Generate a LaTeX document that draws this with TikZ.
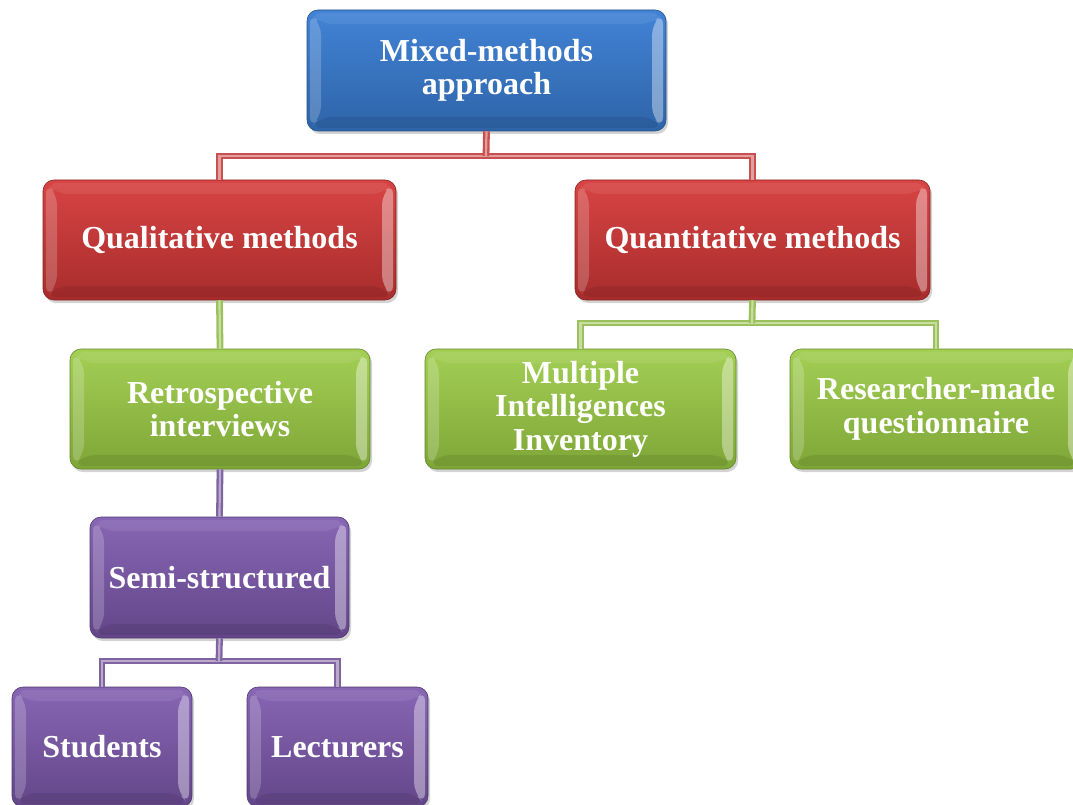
\documentclass[tikz,border=0pt]{standalone}
\usepackage{fontspec}
\setmainfont{Liberation Serif}
\usetikzlibrary{shadows,calc}
\definecolor{bluetop}{HTML}{4283D6}
\definecolor{bluebot}{HTML}{2E64A8}
\definecolor{redtop}{HTML}{D84444}
\definecolor{redbot}{HTML}{A82C2C}
\definecolor{greentop}{HTML}{A3CF55}
\definecolor{greenbot}{HTML}{7EA637}
\definecolor{purptop}{HTML}{8766B4}
\definecolor{purpbot}{HTML}{634689}
\definecolor{redline}{HTML}{C9504F}
\definecolor{greenline}{HTML}{9BC25A}
\definecolor{purpline}{HTML}{8064A2}
\tikzset{
  bevel/.style={path picture={
    \path (path picture bounding box.south west) coordinate (bsw)
          (path picture bounding box.north west) coordinate (bnw)
          (path picture bounding box.north east) coordinate (bne)
          (path picture bounding box.south east) coordinate (bse);
    \fill[white,opacity=.20] ($(bsw)+(3pt,3pt)$) -- ($(bsw)+(14pt,14pt)$) -- ($(bnw)+(14pt,-14pt)$) -- ($(bnw)+(3pt,-3pt)$) -- cycle;
    \fill[white,opacity=.38] ($(bse)+(-3pt,3pt)$) -- ($(bse)+(-14pt,14pt)$) -- ($(bne)+(-14pt,-14pt)$) -- ($(bne)+(-3pt,-3pt)$) -- cycle;
    \fill[white,opacity=.08] ($(bnw)+(3pt,-3pt)$) -- ($(bnw)+(14pt,-14pt)$) -- ($(bne)+(-14pt,-14pt)$) -- ($(bne)+(-3pt,-3pt)$) -- cycle;
    \fill[black,opacity=.08] ($(bsw)+(3pt,3pt)$) -- ($(bsw)+(14pt,14pt)$) -- ($(bse)+(-14pt,14pt)$) -- ($(bse)+(-3pt,3pt)$) -- cycle;
  }},
  boxbase/.style={rectangle, rounded corners=11pt, align=center, text=white,
    font=\fontsize{32}{33.5}\selectfont\bfseries, inner sep=0pt,
    drop shadow={opacity=.35, shadow xshift=2pt, shadow yshift=-3pt}, bevel},
  bluebox/.style={boxbase, top color=bluetop, bottom color=bluebot, draw=bluebot!80!black, line width=.6pt},
  redbox/.style={boxbase, top color=redtop, bottom color=redbot, draw=redbot!80!black, line width=.6pt},
  greenbox/.style={boxbase, top color=greentop, bottom color=greenbot, draw=greenbot!80!black, line width=.6pt},
  purpbox/.style={boxbase, top color=purptop, bottom color=purpbot, draw=purpbot!80!black, line width=.6pt},
  pipe/.style={draw=#1, line width=2.3pt, double=#1!55!white, double distance=2.2pt, line join=miter},
}
\begin{document}
\begin{tikzpicture}[x=1pt,y=-1pt]
\useasboundingbox (0,0) rectangle (1073,805);
\coordinate (j1) at (486,156);
\coordinate (j2) at (752,323);
\coordinate (j3) at (219,661);
% nodes
\node[bluebox, minimum width=359pt, minimum height=121pt] (top) at (486.5,70.5) {Mixed-methods\\approach};
\node[redbox, minimum width=353pt, minimum height=120pt] (qual) at (219.5,240) {Qualitative methods};
\node[redbox, minimum width=355pt, minimum height=120pt] (quan) at (752.5,240) {Quantitative methods};
\node[greenbox, minimum width=300pt, minimum height=120pt] (retro) at (220,409) {Retrospective\\interviews};
\node[greenbox, minimum width=311pt, minimum height=120pt] (mult) at (580.5,409) {Multiple\\Intelligences\\Inventory};
\node[greenbox, minimum width=292pt, minimum height=120pt] (res) at (936,409) {Researcher-made\\questionnaire};
\node[purpbox, minimum width=259pt, minimum height=121pt] (semi) at (219.5,577.5) {Semi-structured};
\node[purpbox, minimum width=180pt, minimum height=120pt] (stud) at (102,747) {Students};
\node[purpbox, minimum width=181pt, minimum height=120pt] (lect) at (337.5,747) {Lecturers};
% connectors
\draw[pipe=redline] (qual.north) |- (j1) -| (quan.north);
\draw[pipe=redline] (top.south) -- (j1);
\draw[pipe=greenline] (qual.south) -- (retro.north);
\draw[pipe=greenline] (mult.north) |- (j2) -| (res.north);
\draw[pipe=greenline] (quan.south) -- (j2);
\draw[pipe=purpline] (retro.south) -- (semi.north);
\draw[pipe=purpline] (stud.north) |- (j3) -| (lect.north);
\draw[pipe=purpline] (semi.south) -- (j3);
\end{tikzpicture}
\end{document}
